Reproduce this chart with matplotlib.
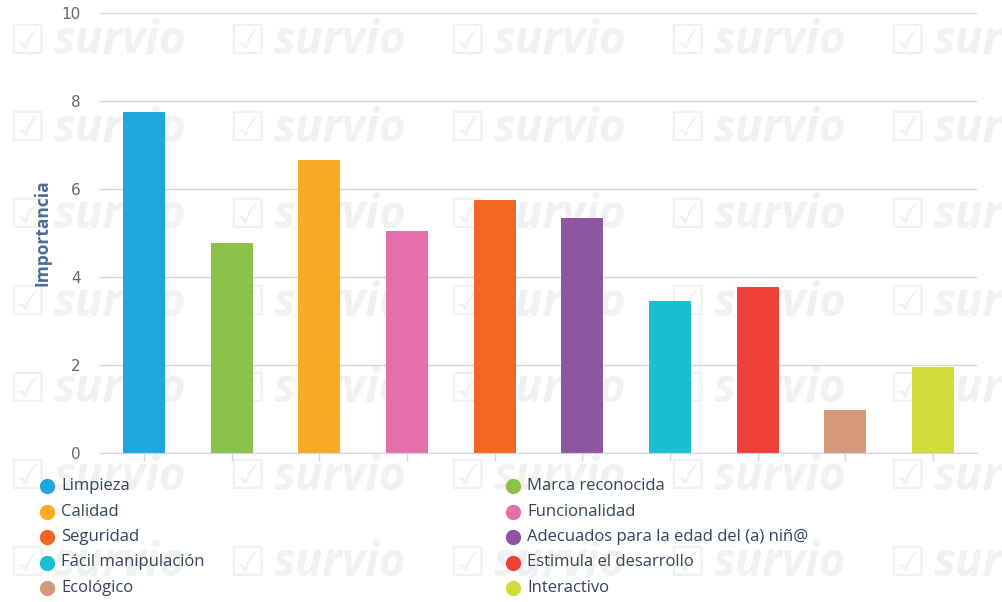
import matplotlib.pyplot as plt
from matplotlib.lines import Line2D

# data
categories = ["Limpieza", "Marca reconocida", "Calidad", "Funcionalidad", "Seguridad",
              "Adecuados para la edad del (a) niñ@", "Fácil manipulación",
              "Estimula el desarrollo", "Ecológico", "Interactivo"]
importancia = [7.75, 4.78, 6.67, 5.05, 5.75, 5.34, 3.45, 3.77, 0.98, 1.95]
colors = ["#1fa8e0", "#8bc34a", "#fbaa27", "#e66fab", "#f26724",
          "#8e55a1", "#1cbfcf", "#ef4137", "#d59979", "#cfdc3c"]
y_ticks = [0, 2, 4, 6, 8, 10]

W, H = 1003, 602
plt.rcParams['font.family'] = ['Open Sans', 'DejaVu Sans']

fig = plt.figure(figsize=(W / 100, H / 100), dpi=100)
fig.patch.set_facecolor("white")

# background watermark (kept behind the axes)
for row in range(7):
    for col in range(5):
        x = 8 + col * 220
        y = 42 + row * 87
        fig.text(x / W, 1 - y / H, "☑", fontsize=30, color="#f1f1f1",
                 family="DejaVu Sans", va="center", ha="left", zorder=-2)
        fig.text((x + 45) / W, 1 - y / H, "survio", fontsize=33, color="#f1f1f1",
                 fontweight="bold", style="italic", va="center", ha="left", zorder=-2)

ax = fig.add_axes([100 / W, 1 - 453 / H, 877 / W, 440 / H])
ax.set_zorder(1)
ax.patch.set_alpha(0)

x = list(range(len(categories)))
ax.bar(x, importancia, width=0.48, color=colors, zorder=3)

ax.set_xlim(-0.5, len(categories) - 0.5)
ax.set_ylim(0, 10)
ax.set_yticks(y_ticks)
ax.set_yticklabels([str(t) for t in y_ticks], color="#666666", fontsize=11,
                   family="DejaVu Sans")
ax.tick_params(axis="y", length=0, pad=14)
ax.set_xticks(x)
ax.set_xticklabels([])
ax.tick_params(axis="x", length=6, color="#ccd6eb", width=1)
ax.grid(axis="y", color="#d4d4d4", linewidth=1, zorder=0)
for side in ["top", "right", "left"]:
    ax.spines[side].set_visible(False)
ax.spines["bottom"].set_color("#ccd6eb")
ax.spines["bottom"].set_zorder(4)

fig.text(43 / W, 1 - 233 / H, "Importancia", rotation=90, color="#4a6b95",
         fontsize=12.5, fontweight="bold", ha="center", va="center")

# legend, two columns
for i, (name, c) in enumerate(zip(categories, colors)):
    col, row = i % 2, i // 2
    lx = 47 if col == 0 else 513
    ly = 486 + row * 25.5
    fig.add_artist(Line2D([lx / W], [1 - ly / H], marker="o", markersize=10,
                          color=c, linestyle="none", transform=fig.transFigure))
    fig.text((lx + 14) / W, 1 - ly / H, name, fontsize=12, color="#34435a",
             ha="left", va="center")

fig.savefig("out.png", dpi=100)
